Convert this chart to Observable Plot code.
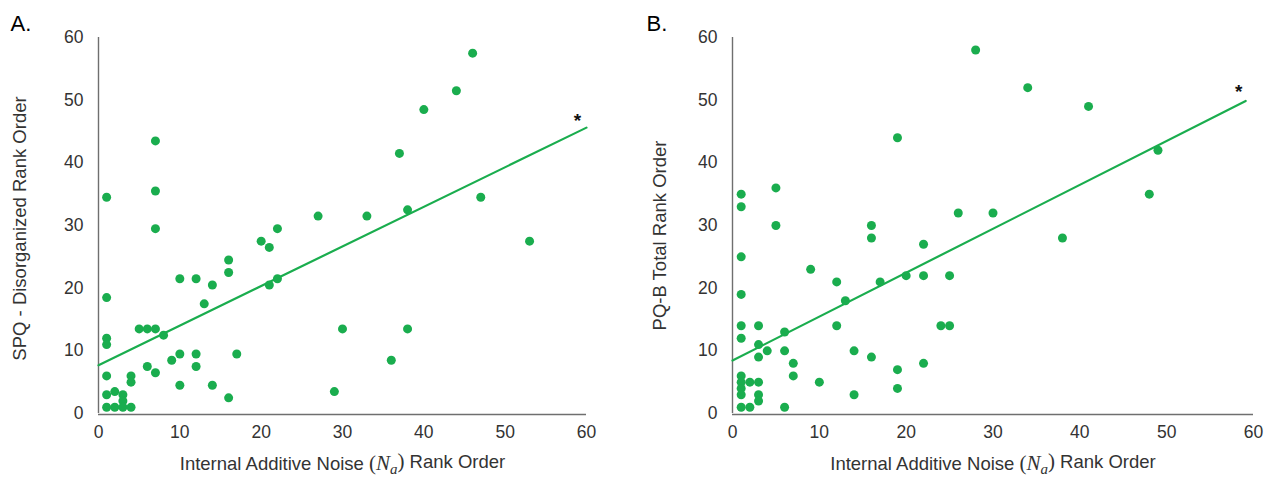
<!DOCTYPE html>
<html>
<head>
<meta charset="utf-8">
<script src="https://cdn.jsdelivr.net/npm/d3@7"></script>
<script src="https://cdn.jsdelivr.net/npm/@observablehq/plot@0.6"></script>
<style>
  body { margin: 0; background: #fff; }
  #wrap { display: flex; width: 1272px; height: 479px; overflow: hidden; }
</style>
</head>
<body>
<div id="wrap"></div>
<script>
// ---------- Data ----------
// Panel A: Internal additive noise rank vs SPQ - Disorganized rank
const aNoiseRank = [1, 1, 1, 1, 1, 1, 1, 2, 2, 3, 3, 3, 4, 4, 4, 5, 6, 7, 8, 6, 7, 9, 10, 10, 10, 12, 12, 12, 14, 13, 14, 16, 16, 16, 17, 20, 21, 21, 22, 30, 29, 7, 7, 7, 22, 27, 33, 38, 37, 40, 44, 46, 47, 53, 38, 36];
const aSpqRank   = [34.5, 18.5, 12, 11, 6, 3, 1, 1, 3.5, 3, 2, 1, 6, 5, 1, 13.5, 13.5, 13.5, 12.5, 7.5, 6.5, 8.5, 9.5, 4.5, 21.5, 21.5, 9.5, 7.5, 20.5, 17.5, 4.5, 24.5, 22.5, 2.5, 9.5, 27.5, 26.5, 20.5, 21.5, 13.5, 3.5, 43.5, 35.5, 29.5, 29.5, 31.5, 31.5, 32.5, 41.5, 48.5, 51.5, 57.5, 34.5, 27.5, 13.5, 8.5];
const aFitIntercept = 7.7;
const aFitSlope = 0.632;
const aFitEnd = 60;
const aStar = {x: 58.9, y: 47.4};

// Panel B: Internal additive noise rank vs PQ-B Total rank
const bNoiseRank = [1, 1, 1, 1, 1, 1, 1, 1, 1, 1, 1, 2, 2, 3, 3, 3, 3, 3, 3, 4, 5, 5, 6, 6, 6, 7, 7, 9, 10, 12, 12, 13, 14, 14, 16, 16, 16, 17, 19, 19, 19, 20, 22, 22, 22, 24, 25, 25, 26, 28, 30, 34, 38, 41, 48, 49];
const bPqbRank   = [35, 33, 25, 19, 14, 12, 6, 5, 4, 3, 1, 1, 5, 14, 11, 9, 5, 3, 2, 10, 36, 30, 13, 10, 1, 8, 6, 23, 5, 21, 14, 18, 10, 3, 30, 28, 9, 21, 44, 7, 4, 22, 27, 22, 8, 14, 14, 22, 32, 58, 32, 52, 28, 49, 35, 42];
const bFitIntercept = 8.45;
const bFitSlope = 0.701;
const bFitEnd = 59.1;
const bStar = {x: 58.3, y: 52.0};

const axisTicks = [0, 10, 20, 30, 40, 50, 60];
const xLabelText = "Internal Additive Noise (Na) Rank Order";
const aYLabel = "SPQ - Disorganized Rank Order";
const bYLabel = "PQ-B Total Rank Order";

// ---------- Styles ----------
const GREEN = "#1aad4e";
const AXIS = "#6f6f6f";
const TEXT = "#333333";
const FONT = "'Liberation Sans', Arial, Helvetica, sans-serif";
const SERIF = "'Liberation Serif', 'DejaVu Serif', serif";

function panel({letter, xs, ys, yLabel, intercept, slope, fitEnd, star, width, ml, mr, yLabelDx, yLabelDy}) {
  const pts = xs.map((x, i) => ({x, y: ys[i]}));
  const fitPts = [0, fitEnd].map(x => ({x, y: intercept + slope * x}));
  const svg = Plot.plot({
    width, height: 479,
    marginLeft: ml, marginRight: mr, marginTop: 37, marginBottom: 66,
    style: {fontFamily: FONT, fontSize: "17.5px", color: TEXT, background: "#fff", overflow: "visible"},
    x: {domain: [0, 60], ticks: axisTicks, tickSize: 0, tickPadding: 12, label: null},
    y: {domain: [0, 60], ticks: axisTicks, tickSize: 0, tickPadding: 15, label: null},
    marks: [
      Plot.ruleX([0], {y1: 0, y2: 60, stroke: AXIS, strokeWidth: 1.4}),
      Plot.ruleY([0], {x1: 0, x2: 60, stroke: AXIS, strokeWidth: 1.4, dy: 1}),
      Plot.line(fitPts, {x: "x", y: "y", stroke: GREEN, strokeWidth: 2.2}),
      Plot.dot(pts, {x: "x", y: "y", r: 4.5, fill: GREEN}),
      Plot.text([star], {x: "x", y: "y", text: () => "*", fontSize: 19, fontWeight: "bold", fill: "#111", dy: 4}),
      Plot.text([yLabel], {frameAnchor: "left", text: d => d, rotate: -90, textAnchor: "middle", dx: yLabelDx, dy: yLabelDy, fontSize: 18.5, fill: TEXT}),
      Plot.text([xLabelText], {frameAnchor: "bottom", text: d => d, textAnchor: "middle", dy: 56, fontSize: 18.5, fill: TEXT}),
      Plot.text([letter], {frameAnchor: "top-left", text: d => d, dx: 10 - ml, dy: -22, lineAnchor: "top", textAnchor: "start", fontSize: 22, fill: "#000"})
    ]
  });
  // Rebuild the x label with an italic math N subscript a
  d3.select(svg).selectAll("text").each(function() {
    if (this.textContent === xLabelText) {
      const t = d3.select(this);
      t.text(null);
      t.append("tspan").text("Internal Additive Noise ");
      t.append("tspan").attr("font-family", SERIF).attr("font-size", 21).text("(");
      t.append("tspan").attr("font-family", SERIF).attr("font-style", "italic").attr("font-size", 21).text("N");
      t.append("tspan").attr("font-family", SERIF).attr("font-style", "italic").attr("font-size", 15).attr("dy", "0.3em").text("a");
      t.append("tspan").attr("font-family", SERIF).attr("font-size", 21).attr("dy", "-0.3em").text(")");
      t.append("tspan").text(" Rank Order");
    }
  });
  return svg;
}

const wrap = document.getElementById("wrap");
wrap.appendChild(panel({
  letter: "A.", xs: aNoiseRank, ys: aSpqRank, yLabel: aYLabel,
  intercept: aFitIntercept, slope: aFitSlope, fitEnd: aFitEnd, star: aStar,
  width: 636, ml: 98, mr: 50, yLabelDx: -78, yLabelDy: 3
}));
wrap.appendChild(panel({
  letter: "B.", xs: bNoiseRank, ys: bPqbRank, yLabel: bYLabel,
  intercept: bFitIntercept, slope: bFitSlope, fitEnd: bFitEnd, star: bStar,
  width: 636, ml: 96, mr: 19, yLabelDx: -72, yLabelDy: 10
}));
</script>
</body>
</html>
